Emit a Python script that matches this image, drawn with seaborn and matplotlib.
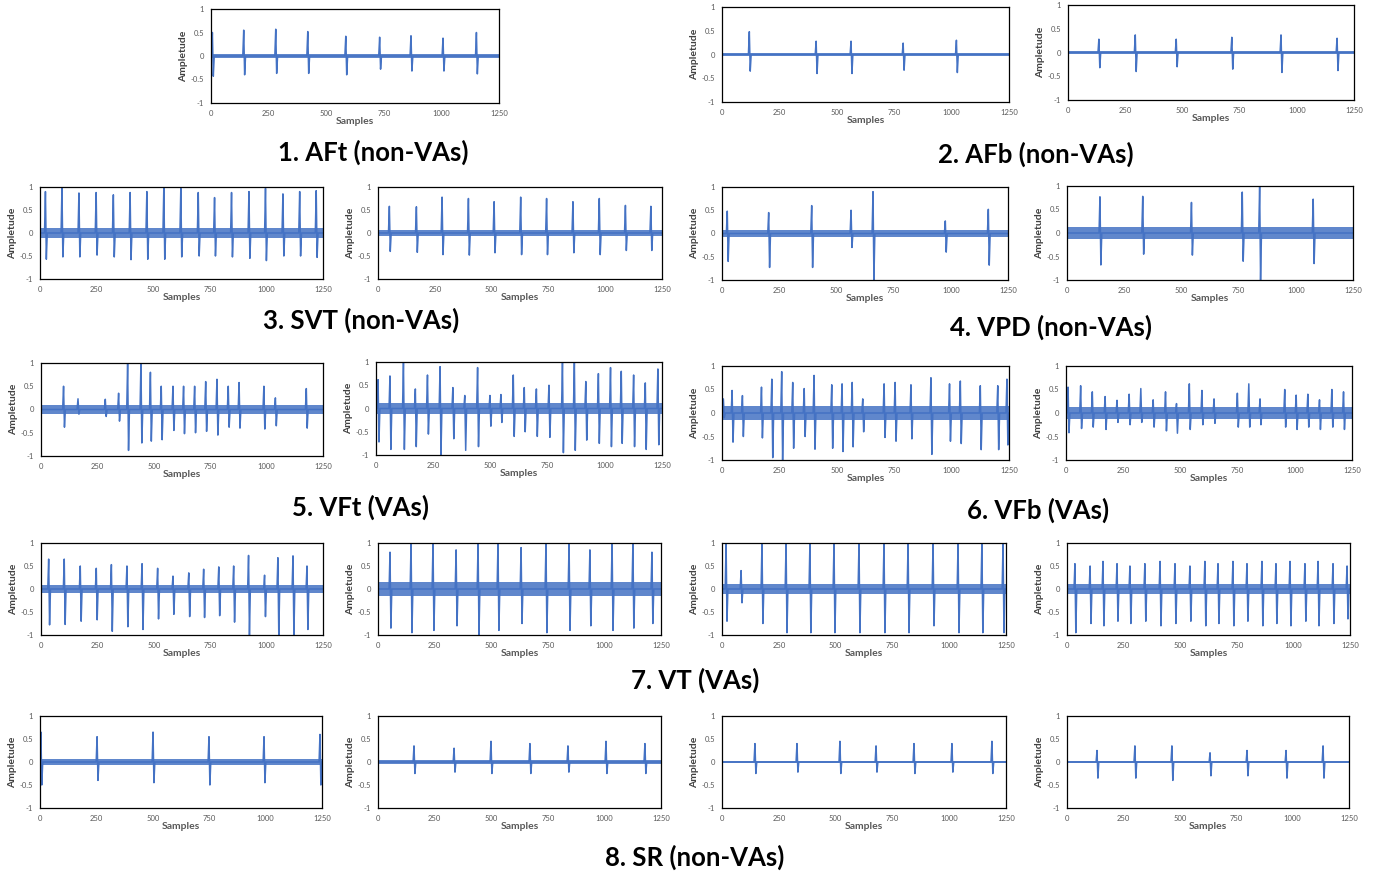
import matplotlib
matplotlib.use("Agg")
import numpy as np
import matplotlib.pyplot as plt
import seaborn as sns

sns.set_theme(style="white")
plt.rcParams['font.family'] = ['Lato', 'DejaVu Sans']

# ---- data: beat sample index, peak up, peak down, baseline noise half-width ----
aft_x = [6, 142, 281, 420, 585, 732, 868, 1007, 1152]
aft_up = [0.5, 0.55, 0.57, 0.52, 0.42, 0.4, 0.43, 0.38, 0.5]
aft_dn = [-0.43, -0.4, -0.37, -0.37, -0.4, -0.28, -0.32, -0.32, -0.38]
aft_noise = 0.04

afb1_x = [119, 410, 562, 789, 1021]
afb1_up = [0.48, 0.28, 0.28, 0.24, 0.3]
afb1_dn = [-0.35, -0.4, -0.4, -0.33, -0.38]
afb1_noise = 0.03

afb2_x = [135, 294, 473, 716, 931, 1176]
afb2_up = [0.28, 0.37, 0.28, 0.32, 0.37, 0.3]
afb2_dn = [-0.32, -0.4, -0.3, -0.35, -0.42, -0.38]
afb2_noise = 0.03

svt1_x = [24, 97, 172, 248, 324, 398, 472, 547, 622, 699, 771, 846, 923, 996, 1073, 1147, 1220]
svt1_up = [0.9, 0.97, 0.87, 0.88, 0.83, 0.88, 0.9, 1.0, 0.97, 0.88, 0.77, 0.88, 0.9, 0.97, 0.85, 0.9, 0.92]
svt1_dn = [-0.57, -0.52, -0.52, -0.48, -0.52, -0.58, -0.57, -0.57, -0.52, -0.5, -0.5, -0.52, -0.55, -0.6, -0.5, -0.5, -0.53]
svt1_noise = 0.1

svt2_x = [50, 169, 282, 398, 511, 628, 742, 858, 974, 1089, 1201]
svt2_up = [0.58, 0.57, 0.78, 0.75, 0.68, 0.78, 0.75, 0.68, 0.75, 0.6, 0.58]
svt2_dn = [-0.4, -0.42, -0.47, -0.48, -0.43, -0.47, -0.47, -0.43, -0.47, -0.38, -0.38]
svt2_noise = 0.06

vpd1_x = [23, 204, 392, 564, 660, 976, 1164]
vpd1_up = [0.48, 0.45, 0.6, 0.5, 0.9, 0.27, 0.52]
vpd1_dn = [-0.6, -0.73, -0.73, -0.3, -1.0, -0.4, -0.68]
vpd1_noise = 0.07

vpd2_x = [144, 331, 544, 766, 842, 1076]
vpd2_up = [0.77, 0.78, 0.65, 0.87, 1.0, 0.72]
vpd2_dn = [-0.68, -0.45, -0.47, -0.6, -1.0, -0.65]
vpd2_noise = 0.12

vft1_x = [100, 164, 285, 344, 384, 443, 485, 533, 585, 632, 681, 730, 780, 830, 878, 988, 1039, 1176]
vft1_up = [0.5, 0.23, 0.22, 0.35, 1.0, 1.0, 0.8, 0.5, 0.5, 0.5, 0.5, 0.6, 0.65, 0.5, 0.58, 0.5, 0.25, 0.45]
vft1_dn = [-0.38, -0.1, -0.15, -0.25, -0.88, -0.72, -0.68, -0.65, -0.45, -0.52, -0.5, -0.47, -0.55, -0.38, -0.4, -0.42, -0.35, -0.4]
vft1_noise = 0.1

vft2_x = [9, 61, 120, 172, 225, 280, 336, 388, 444, 498, 546, 600, 648, 701, 756, 815, 867, 917,
          972, 1025, 1072, 1126, 1177, 1232]
vft2_up = [0.62, 0.7, 1.0, 0.42, 0.72, 0.9, 0.45, 0.28, 0.88, 0.28, 0.3, 0.72, 0.45, 0.42, 0.5, 1.0,
           1.0, 0.58, 0.75, 0.88, 0.8, 0.72, 0.55, 0.85]
vft2_dn = [-0.72, -0.88, -0.88, -0.82, -0.55, -1.0, -0.65, -0.9, -0.82, -0.38, -0.3, -0.6, -0.5, -0.6,
           -0.62, -0.95, -0.9, -0.68, -0.75, -0.82, -0.75, -0.82, -0.88, -0.78]
vft2_noise = 0.12

vfb1_x = [6, 44, 89, 172, 217, 260, 308, 358, 401, 478, 523, 567, 613, 706, 754, 823, 910, 991,
          1038, 1125, 1201, 1241]
vfb1_up = [0.3, 0.48, 0.37, 0.55, 0.72, 0.88, 0.65, 0.52, 0.8, 0.6, 0.62, 0.65, 0.3, 0.62, 0.65, 0.6,
           0.75, 0.62, 0.68, 0.58, 0.58, 0.72]
vfb1_dn = [-0.1, -0.62, -0.5, -0.53, -0.95, -1.0, -0.75, -0.5, -0.77, -0.75, -0.82, -0.72, -0.4, -0.52,
           -0.6, -0.55, -0.88, -0.6, -0.65, -0.78, -0.78, -0.68]
vfb1_noise = 0.15

vfb2_x = [9, 64, 115, 171, 223, 276, 327, 381, 435, 483, 539, 594, 647, 749, 799, 848, 956, 1006,
          1057, 1108, 1162, 1213]
vfb2_up = [0.55, 0.58, 0.45, 0.35, 0.27, 0.4, 0.52, 0.28, 0.45, 0.2, 0.62, 0.48, 0.3, 0.42, 0.62, 0.3,
           0.5, 0.38, 0.4, 0.28, 0.5, 0.45]
vfb2_dn = [-0.42, -0.33, -0.3, -0.35, -0.2, -0.25, -0.2, -0.3, -0.38, -0.43, -0.35, -0.25, -0.22, -0.3,
           -0.3, -0.25, -0.3, -0.35, -0.3, -0.35, -0.3, -0.35]
vfb2_noise = 0.12

vt1_x = [34, 103, 174, 245, 312, 381, 448, 517, 585, 655, 721, 788, 854, 920, 991, 1050, 1117, 1179]
vt1_up = [0.65, 0.65, 0.5, 0.45, 0.53, 0.5, 0.55, 0.45, 0.28, 0.35, 0.43, 0.48, 0.5, 0.73, 0.3, 0.68, 0.72, 0.5]
vt1_dn = [-0.78, -0.77, -0.7, -0.67, -0.92, -0.82, -0.88, -0.65, -0.55, -0.6, -0.62, -0.58, -0.72, -1.0,
          -0.6, -1.0, -1.0, -0.88]
vt1_noise = 0.09

vt2_x = [53, 146, 243, 345, 442, 530, 632, 742, 844, 936, 1034, 1126, 1210]
vt2_up = [0.8, 1.0, 1.0, 0.85, 1.0, 1.0, 0.9, 1.0, 1.0, 0.85, 1.0, 1.0, 0.8]
vt2_dn = [-0.85, -0.95, -0.9, -0.8, -1.0, -0.9, -0.75, -0.95, -0.9, -0.8, -0.9, -0.85, -0.75]
vt2_noise = 0.16

vt3_x = [18, 84, 176, 282, 387, 493, 603, 713, 819, 929, 1039, 1144, 1237]
vt3_up = [1.0, 0.4, 1.0, 1.0, 1.0, 1.0, 1.0, 1.0, 1.0, 1.0, 1.0, 1.0, 1.0]
vt3_dn = [-0.7, -0.3, -0.75, -0.95, -0.95, -0.95, -0.95, -0.95, -0.95, -0.8, -0.95, -0.95, -0.95]
vt3_noise = 0.1

vt4_x = [35, 102, 159, 221, 278, 344, 411, 477, 543, 609, 667, 733, 795, 861, 923, 985, 1051, 1109, 1175, 1237]
vt4_up = [0.55, 0.5, 0.6, 0.55, 0.5, 0.55, 0.6, 0.55, 0.5, 0.6, 0.55, 0.6, 0.55, 0.6, 0.55, 0.6, 0.55, 0.6, 0.55, 0.5]
vt4_dn = [-0.95, -0.75, -0.8, -0.7, -0.75, -0.7, -0.8, -0.75, -0.7, -0.8, -0.75, -0.8, -0.7, -0.8, -0.75,
          -0.8, -0.7, -0.8, -0.75, -0.65]
vt4_noise = 0.1

sr1_x = [4, 253, 501, 749, 993, 1241]
sr1_up = [0.65, 0.55, 0.65, 0.55, 0.55, 0.6]
sr1_dn = [-0.5, -0.4, -0.45, -0.5, -0.45, -0.5]
sr1_noise = 0.07

sr2_x = [159, 336, 499, 671, 839, 1007, 1179]
sr2_up = [0.35, 0.3, 0.45, 0.4, 0.35, 0.45, 0.4]
sr2_dn = [-0.25, -0.22, -0.25, -0.25, -0.22, -0.25, -0.25]
sr2_noise = 0.04

sr3_x = [145, 330, 519, 678, 845, 1012, 1188]
sr3_up = [0.4, 0.4, 0.45, 0.35, 0.4, 0.4, 0.45]
sr3_dn = [-0.25, -0.22, -0.25, -0.22, -0.25, -0.22, -0.25]
sr3_noise = 0.03

sr4_x = [133, 301, 465, 634, 798, 971, 1135]
sr4_up = [0.25, 0.35, 0.35, 0.2, 0.25, 0.25, 0.35]
sr4_dn = [-0.35, -0.35, -0.4, -0.3, -0.3, -0.35, -0.35]
sr4_noise = 0.03

x_ticks = [0, 250, 500, 750, 1000, 1250]
y_ticks = [-1, -0.5, 0, 0.5, 1]
y_tick_labels = ["-1", "-0.5", "0", "0.5", "1"]

titles = ["1. AFt (non-VAs)", "2. AFb (non-VAs)", "3. SVT (non-VAs)", "4. VPD (non-VAs)",
          "5. VFt (VAs)", "6. VFb (VAs)", "7. VT (VAs)", "8. SR (non-VAs)"]

# axes boxes in pixels (left, top, right, bottom)
panels = [
    ((211, 9, 499, 103), aft_x, aft_up, aft_dn, aft_noise),
    ((722, 7, 1009, 102), afb1_x, afb1_up, afb1_dn, afb1_noise),
    ((1068, 5, 1354, 100), afb2_x, afb2_up, afb2_dn, afb2_noise),
    ((40, 187, 323, 279), svt1_x, svt1_up, svt1_dn, svt1_noise),
    ((378, 187, 662, 279), svt2_x, svt2_up, svt2_dn, svt2_noise),
    ((722, 187, 1008, 280), vpd1_x, vpd1_up, vpd1_dn, vpd1_noise),
    ((1067, 186, 1353, 280), vpd2_x, vpd2_up, vpd2_dn, vpd2_noise),
    ((41, 363, 323, 456), vft1_x, vft1_up, vft1_dn, vft1_noise),
    ((376, 362, 662, 455), vft2_x, vft2_up, vft2_dn, vft2_noise),
    ((722, 366, 1009, 460), vfb1_x, vfb1_up, vfb1_dn, vfb1_noise),
    ((1066, 366, 1352, 460), vfb2_x, vfb2_up, vfb2_dn, vfb2_noise),
    ((41, 543, 323, 635), vt1_x, vt1_up, vt1_dn, vt1_noise),
    ((378, 543, 661, 635), vt2_x, vt2_up, vt2_dn, vt2_noise),
    ((722, 543, 1006, 635), vt3_x, vt3_up, vt3_dn, vt3_noise),
    ((1067, 543, 1350, 635), vt4_x, vt4_up, vt4_dn, vt4_noise),
    ((40, 716, 322, 808), sr1_x, sr1_up, sr1_dn, sr1_noise),
    ((378, 716, 661, 808), sr2_x, sr2_up, sr2_dn, sr2_noise),
    ((722, 716, 1006, 808), sr3_x, sr3_up, sr3_dn, sr3_noise),
    ((1067, 716, 1349, 808), sr4_x, sr4_up, sr4_dn, sr4_noise),
]

# title centres in pixels
title_pos = [(373, 152), (1036, 154), (361, 320), (1051, 327),
             (361, 507), (1038, 510), (695, 680), (695, 857)]

W, H = 1375, 875
BLUE = "#4472C4"
fig = plt.figure(figsize=(W / 100, H / 100), dpi=100)


def trace(beats, ups, downs):
    # each beat: short up stroke then down stroke back to the baseline
    xs, ys = [0], [0]
    for b, u, d in zip(beats, ups, downs):
        xs += [b - 4, b, b + 4, b + 8]
        ys += [0, u, d, 0]
    xs.append(1250)
    ys.append(0)
    return xs, ys


for (l, t, r, b), bx, bu, bd, nz in panels:
    ax = fig.add_axes([l / W, 1 - b / H, (r - l) / W, (b - t) / H])
    ax.fill_between(x_ticks, [-nz] * len(x_ticks), [nz] * len(x_ticks), color=BLUE, lw=0, alpha=0.85)
    xs, ys = trace(bx, bu, bd)
    sns.lineplot(x=xs, y=ys, ax=ax, color=BLUE, linewidth=1.1, estimator=None, sort=False)
    ax.set_xlim(0, 1250)
    ax.set_ylim(-1, 1)
    ax.set_xticks(x_ticks)
    ax.set_yticks(y_ticks)
    ax.set_yticklabels(y_tick_labels)
    ax.tick_params(length=0, labelsize=5.5, colors="#595959", pad=5)
    for s in ax.spines.values():
        s.set_color("black")
        s.set_linewidth(0.9)
    ax.set_xlabel("Samples", fontsize=7.5, fontweight="bold", color="#595959", labelpad=0)
    ax.set_ylabel("Ampletude", fontsize=7.5, fontweight="bold", color="#404040", labelpad=2)

for txt, (cx, cy) in zip(titles, title_pos):
    fig.text(cx / W, 1 - cy / H, txt, ha="center", va="center", fontsize=18.5, fontweight="bold", color="black")

fig.savefig("out.png", dpi=100)
